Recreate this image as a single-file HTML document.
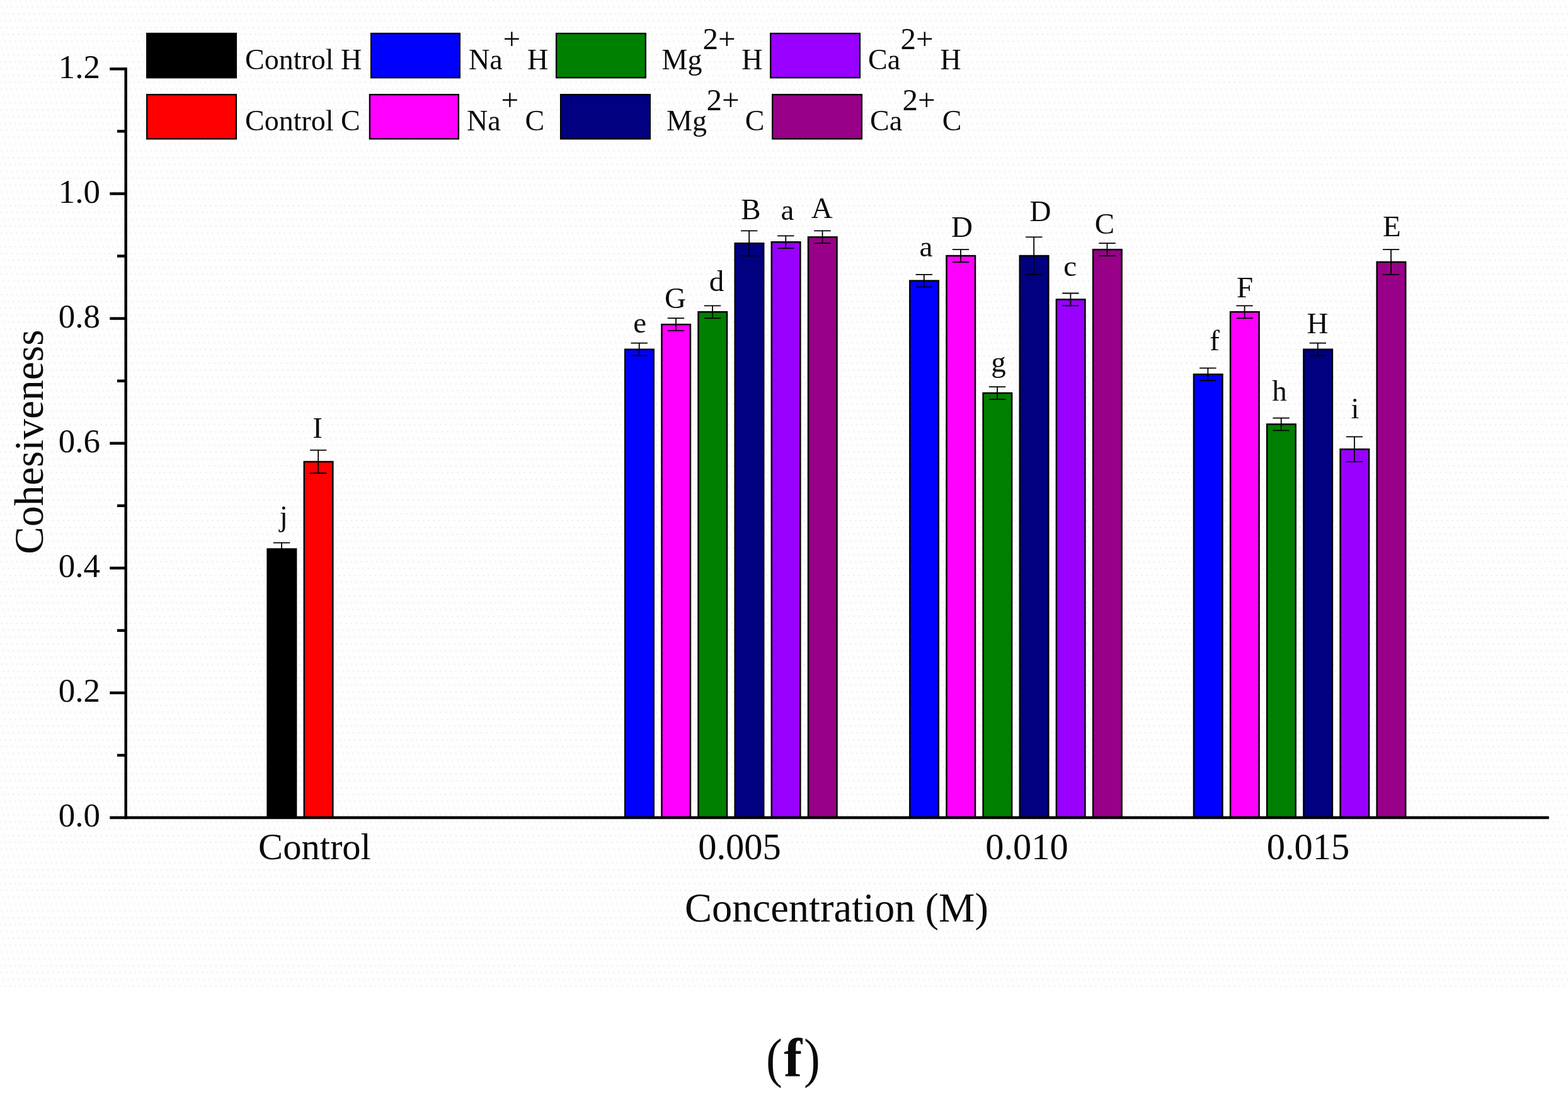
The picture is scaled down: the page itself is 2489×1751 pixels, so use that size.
<!DOCTYPE html>
<html lang="en"><head><meta charset="utf-8"><title>Cohesiveness vs concentration (f)</title>
<style>
html,body{margin:0;padding:0;background:#ffffff;}
body{width:2489px;height:1751px;overflow:hidden;}
svg{display:block;}
text{font-family:"Liberation Serif","DejaVu Serif",serif;fill:#0a0a0a;}
.yt{font-size:53px;text-anchor:end;}
.xt{font-size:58.5px;text-anchor:middle;}
.ttl{font-size:64.5px;text-anchor:middle;}
.ytl{font-size:65.5px;text-anchor:middle;}
.lg{font-size:46px;}
.sp{font-size:49px;}
.lt{font-size:47px;text-anchor:middle;}
.cp{font-size:86px;}
.cf{font-size:87px;font-weight:bold;}
.bar{stroke:#000;stroke-width:2.5;}
.sw{stroke:#000;stroke-width:2.3;}
.eb{stroke:#000;stroke-width:1.8;fill:none;}
.ax{stroke:#000;stroke-width:4.4;fill:none;stroke-linecap:butt;}
</style></head><body>
<svg width="2489" height="1751" viewBox="0 0 2489 1751">
<rect x="0" y="0" width="2489" height="1751" fill="#ffffff"/>
<defs><pattern id="dt" width="8.166" height="32.61" patternUnits="userSpaceOnUse" patternTransform="translate(6.6 -1.1)">
<rect x="0.2" y="0.2" width="2.4" height="2.4" fill="#f0f0f0"/>
<rect x="2.92" y="11.07" width="2.4" height="2.4" fill="#f0f0f0"/>
<rect x="5.64" y="21.94" width="2.4" height="2.4" fill="#f0f0f0"/>
</pattern></defs>
<rect x="0" y="0" width="2489" height="1572" fill="#fefefe"/>
<rect x="0" y="0" width="2489" height="1572" fill="url(#dt)"/>
<g id="legend">
<rect class="sw" x="233.2" y="53.1" width="141.7" height="70.2" fill="#000000"/>
<text class="lg" x="389.0" y="110.3">Control H</text>
<rect class="sw" x="589.1" y="53.1" width="140.7" height="70.2" fill="#0000ff"/>
<text class="lg" x="744.0" y="110.3">Na<tspan class="sp" x="798.5" y="78.3">+</tspan><tspan x="825.5" y="110.3"> H</tspan></text>
<rect class="sw" x="883.1" y="53.1" width="141.7" height="70.2" fill="#008000"/>
<text class="lg" x="1050.5" y="110.3">Mg<tspan class="sp" x="1115.5" y="78.3">2+</tspan><tspan x="1165.8" y="110.3"> H</tspan></text>
<rect class="sw" x="1223.2" y="53.1" width="141.7" height="70.2" fill="#9900ff"/>
<text class="lg" x="1378.0" y="110.3">Ca<tspan class="sp" x="1429.5" y="78.3">2+</tspan><tspan x="1481.1" y="110.3"> H</tspan></text>
<rect class="sw" x="233.2" y="150.2" width="141.7" height="70.2" fill="#ff0000"/>
<text class="lg" x="389.0" y="206.8">Control C</text>
<rect class="sw" x="586.9" y="150.2" width="141.0" height="70.2" fill="#ff00ff"/>
<text class="lg" x="741.0" y="206.8">Na<tspan class="sp" x="795.5" y="174.8">+</tspan><tspan x="821.9" y="206.8"> C</tspan></text>
<rect class="sw" x="890.1" y="150.2" width="141.7" height="70.2" fill="#000080"/>
<text class="lg" x="1058.0" y="206.8">Mg<tspan class="sp" x="1121.5" y="174.8">2+</tspan><tspan x="1171.3" y="206.8"> C</tspan></text>
<rect class="sw" x="1226.2" y="150.2" width="141.7" height="70.2" fill="#990088"/>
<text class="lg" x="1381.0" y="206.8">Ca<tspan class="sp" x="1432.5" y="174.8">2+</tspan><tspan x="1484.2" y="206.8"> C</tspan></text>
</g>
<g id="bars">
<rect class="bar" x="424.6" y="871.6" width="45.5" height="426.4" fill="#000000"/>
<rect class="bar" x="482.8" y="733.0" width="45.5" height="565.0" fill="#ff0000"/>
<rect class="bar" x="992.2" y="554.7" width="45.5" height="743.3" fill="#0000ff"/>
<rect class="bar" x="1050.4" y="515.1" width="45.5" height="782.9" fill="#ff00ff"/>
<rect class="bar" x="1108.5" y="495.2" width="45.5" height="802.8" fill="#008000"/>
<rect class="bar" x="1166.7" y="386.3" width="45.5" height="911.7" fill="#000080"/>
<rect class="bar" x="1224.8" y="384.3" width="45.5" height="913.7" fill="#9900ff"/>
<rect class="bar" x="1283.0" y="376.4" width="45.5" height="921.6" fill="#990088"/>
<rect class="bar" x="1444.3" y="445.7" width="45.5" height="852.3" fill="#0000ff"/>
<rect class="bar" x="1502.5" y="406.1" width="45.5" height="891.9" fill="#ff00ff"/>
<rect class="bar" x="1560.6" y="624.0" width="45.5" height="674.0" fill="#008000"/>
<rect class="bar" x="1618.8" y="406.1" width="45.5" height="891.9" fill="#000080"/>
<rect class="bar" x="1676.9" y="475.4" width="45.5" height="822.6" fill="#9900ff"/>
<rect class="bar" x="1735.1" y="396.2" width="45.5" height="901.8" fill="#990088"/>
<rect class="bar" x="1895.0" y="594.3" width="45.5" height="703.7" fill="#0000ff"/>
<rect class="bar" x="1953.1" y="495.2" width="45.5" height="802.8" fill="#ff00ff"/>
<rect class="bar" x="2011.2" y="673.5" width="45.5" height="624.5" fill="#008000"/>
<rect class="bar" x="2069.4" y="554.7" width="45.5" height="743.3" fill="#000080"/>
<rect class="bar" x="2127.6" y="713.2" width="45.5" height="584.8" fill="#9900ff"/>
<rect class="bar" x="2185.7" y="416.0" width="45.5" height="882.0" fill="#990088"/>
</g>
<g id="errs">
<path class="eb" d="M433.9 861.7H460.3M433.9 881.5H460.3M447.1 861.7V881.5"/>
<path class="eb" d="M492.0 714.6H518.4M492.0 751.2H518.4M505.2 714.6V751.2"/>
<path class="eb" d="M1001.5 544.7H1027.9M1001.5 564.5H1027.9M1014.7 544.7V564.5"/>
<path class="eb" d="M1059.7 505.1H1086.1M1059.7 524.9H1086.1M1072.9 505.1V524.9"/>
<path class="eb" d="M1117.8 485.3H1144.2M1117.8 505.1H1144.2M1131.0 485.3V505.1"/>
<path class="eb" d="M1176.0 366.4H1202.4M1176.0 406.0H1202.4M1189.2 366.4V406.0"/>
<path class="eb" d="M1234.1 374.4H1260.5M1234.1 394.2H1260.5M1247.3 374.4V394.2"/>
<path class="eb" d="M1292.2 366.4H1318.7M1292.2 386.2H1318.7M1305.5 366.4V386.2"/>
<path class="eb" d="M1453.6 435.8H1480.0M1453.6 455.6H1480.0M1466.8 435.8V455.6"/>
<path class="eb" d="M1511.8 396.1H1538.2M1511.8 416.0H1538.2M1525.0 396.1V416.0"/>
<path class="eb" d="M1569.9 614.1H1596.3M1569.9 633.9H1596.3M1583.1 614.1V633.9"/>
<path class="eb" d="M1628.0 376.3H1654.5M1628.0 435.8H1654.5M1641.2 376.3V435.8"/>
<path class="eb" d="M1686.2 465.5H1712.6M1686.2 485.3H1712.6M1699.4 465.5V485.3"/>
<path class="eb" d="M1744.3 386.2H1770.8M1744.3 406.0H1770.8M1757.5 386.2V406.0"/>
<path class="eb" d="M1904.2 584.3H1930.6M1904.2 604.2H1930.6M1917.4 584.3V604.2"/>
<path class="eb" d="M1962.4 485.3H1988.8M1962.4 505.1H1988.8M1975.6 485.3V505.1"/>
<path class="eb" d="M2020.5 663.6H2046.9M2020.5 683.4H2046.9M2033.7 663.6V683.4"/>
<path class="eb" d="M2078.7 544.7H2105.0M2078.7 564.5H2105.0M2091.8 544.7V564.5"/>
<path class="eb" d="M2136.8 693.3H2163.2M2136.8 732.9H2163.2M2150.0 693.3V732.9"/>
<path class="eb" d="M2194.9 396.1H2221.3M2194.9 435.8H2221.3M2208.1 396.1V435.8"/>
</g>
<g id="letters">
<text class="lt" x="450.4" y="835.0">j</text>
<text class="lt" x="504.0" y="695.4">I</text>
<text class="lt" x="1015.8" y="527.8">e</text>
<text class="lt" x="1072.0" y="489.4">G</text>
<text class="lt" x="1137.4" y="462.0">d</text>
<text class="lt" x="1192.0" y="347.6">B</text>
<text class="lt" x="1250.0" y="349.0">a</text>
<text class="lt" x="1304.8" y="345.8">A</text>
<text class="lt" x="1470.0" y="407.0">a</text>
<text class="lt" x="1527.0" y="376.3">D</text>
<text class="lt" x="1585.0" y="589.8">g</text>
<text class="lt" x="1651.4" y="351.3">D</text>
<text class="lt" x="1698.6" y="438.0">c</text>
<text class="lt" x="1753.5" y="371.4">C</text>
<text class="lt" x="1928.0" y="556.0">f</text>
<text class="lt" x="1976.0" y="471.8">F</text>
<text class="lt" x="2031.0" y="635.8">h</text>
<text class="lt" x="2091.4" y="529.4">H</text>
<text class="lt" x="2151.0" y="663.5">i</text>
<text class="lt" x="2209.4" y="374.5">E</text>
</g>
<g id="axes">
<path class="ax" d="M199.7 107.2V1300.2"/>
<path class="ax" d="M174.3 1298.0H2458.8"/>
<path class="ax" d="M186 1199.0H199.7"/>
<path class="ax" d="M174.3 1099.9H199.7"/>
<path class="ax" d="M186 1000.9H199.7"/>
<path class="ax" d="M174.3 901.8H199.7"/>
<path class="ax" d="M186 802.8H199.7"/>
<path class="ax" d="M174.3 703.7H199.7"/>
<path class="ax" d="M186 604.7H199.7"/>
<path class="ax" d="M174.3 505.6H199.7"/>
<path class="ax" d="M186 406.5H199.7"/>
<path class="ax" d="M174.3 307.5H199.7"/>
<path class="ax" d="M186 208.4H199.7"/>
<path class="ax" d="M174.3 109.4H199.7"/>
<text class="yt" x="159" y="1312.3">0.0</text>
<text class="yt" x="159" y="1114.2">0.2</text>
<text class="yt" x="159" y="916.1">0.4</text>
<text class="yt" x="159" y="718.0">0.6</text>
<text class="yt" x="159" y="519.9">0.8</text>
<text class="yt" x="159" y="321.8">1.0</text>
<text class="yt" x="159" y="123.7">1.2</text>
<text class="xt" x="499.5" y="1364">Control</text>
<text class="xt" x="1174" y="1364">0.005</text>
<text class="xt" x="1630" y="1364">0.010</text>
<text class="xt" x="2076.5" y="1364">0.015</text>
<text class="ttl" x="1328" y="1463.2">Concentration (M)</text>
<text class="ytl" transform="translate(67.5 701.5) rotate(-90)" x="0" y="0">Cohesiveness</text>
</g>
<g id="caption">
<text class="cp" y="1708.8"><tspan x="1216" textLength="25.8" lengthAdjust="spacingAndGlyphs">(</tspan><tspan class="cf" x="1244.3">f</tspan><tspan x="1276" textLength="25.8" lengthAdjust="spacingAndGlyphs">)</tspan></text>
</g>
</svg>
</body></html>
